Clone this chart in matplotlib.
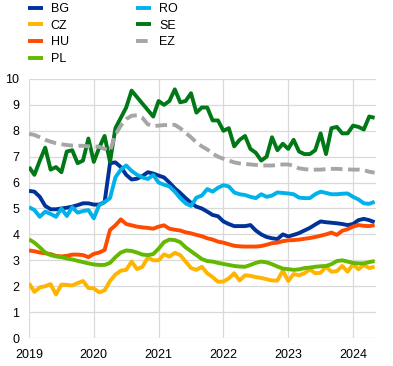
import numpy as np
import matplotlib
matplotlib.use("Agg")
import matplotlib.pyplot as plt

plt.rcParams['font.family'] = ['Liberation Sans', 'DejaVu Sans']

# monthly values, Jan 2019 - May 2024
bg = [5.68, 5.65, 5.45, 5.10, 4.97, 4.97, 5.00, 5.03, 5.07, 5.13, 5.20, 5.20,
      5.15, 5.15, 5.25, 6.75, 6.78, 6.60, 6.30, 6.12, 6.15, 6.25, 6.40, 6.35,
      6.27, 6.20, 6.00, 5.78, 5.60, 5.40, 5.22, 5.07, 5.00, 4.88, 4.75, 4.70,
      4.50, 4.40, 4.32, 4.32, 4.32, 4.36, 4.15, 4.00, 3.90, 3.85, 3.82, 4.00,
      3.92, 3.98, 4.05, 4.15, 4.25, 4.38, 4.50, 4.47, 4.45, 4.43, 4.40, 4.36,
      4.40, 4.55, 4.60, 4.55, 4.47]
cz = [2.11, 1.78, 1.95, 2.00, 2.08, 1.68, 2.06, 2.05, 2.03, 2.12, 2.20, 1.93,
      1.92, 1.76, 1.84, 2.20, 2.45, 2.60, 2.63, 2.95, 2.66, 2.75, 3.11, 3.00,
      3.00, 3.23, 3.14, 3.29, 3.20, 2.95, 2.70, 2.63, 2.75, 2.50, 2.35, 2.17,
      2.18, 2.30, 2.50, 2.22, 2.42, 2.40, 2.35, 2.32, 2.27, 2.22, 2.22, 2.60,
      2.20, 2.47, 2.42, 2.50, 2.65, 2.50, 2.52, 2.75, 2.56, 2.58, 2.78, 2.56,
      2.85, 2.65, 2.82, 2.70, 2.75]
hu = [3.38, 3.35, 3.30, 3.27, 3.24, 3.17, 3.15, 3.17, 3.22, 3.22, 3.20, 3.12,
      3.25, 3.30, 3.40, 4.17, 4.35, 4.58, 4.40, 4.35, 4.30, 4.27, 4.25, 4.22,
      4.30, 4.35, 4.22, 4.18, 4.15, 4.08, 4.04, 3.98, 3.93, 3.85, 3.80, 3.72,
      3.68, 3.62, 3.56, 3.54, 3.53, 3.53, 3.53, 3.55, 3.60, 3.66, 3.68, 3.74,
      3.77, 3.78, 3.80, 3.83, 3.86, 3.90, 3.95, 4.00, 4.07, 3.98, 4.14, 4.20,
      4.30, 4.36, 4.33, 4.32, 4.36]
pl = [3.81, 3.68, 3.50, 3.30, 3.20, 3.15, 3.12, 3.07, 3.03, 2.98, 2.93, 2.88,
      2.84, 2.82, 2.82, 2.90, 3.12, 3.30, 3.38, 3.36, 3.30, 3.22, 3.20, 3.24,
      3.45, 3.70, 3.80, 3.78, 3.70, 3.50, 3.35, 3.20, 3.05, 2.97, 2.95, 2.90,
      2.86, 2.82, 2.78, 2.76, 2.75, 2.82, 2.90, 2.95, 2.92, 2.85, 2.76, 2.68,
      2.66, 2.63, 2.65, 2.70, 2.72, 2.75, 2.77, 2.78, 2.85, 2.97, 3.00, 2.95,
      2.90, 2.88, 2.88, 2.93, 2.97]
ro = [5.05, 4.94, 4.68, 4.88, 4.79, 4.68, 5.00, 4.71, 5.05, 4.84, 4.90, 4.94,
      4.62, 5.13, 5.25, 5.40, 6.20, 6.50, 6.66, 6.45, 6.30, 6.20, 6.14, 6.29,
      6.00, 5.92, 5.85, 5.65, 5.40, 5.20, 5.10, 5.42, 5.50, 5.75, 5.65, 5.80,
      5.90, 5.85, 5.62, 5.55, 5.52, 5.45, 5.40, 5.55, 5.45, 5.50, 5.62, 5.60,
      5.58, 5.55, 5.42, 5.40, 5.40, 5.55, 5.65, 5.60, 5.55, 5.55, 5.57, 5.58,
      5.45, 5.35, 5.20, 5.18, 5.26]
se = [6.60, 6.30, 6.85, 7.35, 6.50, 6.60, 6.40, 7.20, 7.25, 6.75, 6.85, 7.70,
      6.80, 7.35, 7.80, 6.80, 8.10, 8.50, 8.90, 9.55, 9.30, 9.05, 8.80, 8.55,
      9.15, 9.00, 9.15, 9.60, 9.10, 9.15, 9.45, 8.70, 8.90, 8.90, 8.40, 8.40,
      8.00, 8.10, 7.40, 7.65, 7.80, 7.30, 7.15, 6.85, 7.00, 7.75, 7.25, 7.50,
      7.30, 7.65, 7.20, 7.10, 7.10, 7.25, 7.90, 7.10, 8.10, 8.15, 7.90, 7.90,
      8.20, 8.15, 8.05, 8.55, 8.50]
ez = [7.88, 7.84, 7.75, 7.65, 7.58, 7.52, 7.48, 7.45, 7.43, 7.42, 7.42, 7.40,
      7.40, 7.38, 7.30, 7.22, 7.85, 8.20, 8.45, 8.58, 8.60, 8.50, 8.25, 8.18,
      8.20, 8.22, 8.22, 8.23, 8.10, 7.92, 7.75, 7.55, 7.40, 7.28, 7.12, 7.00,
      6.92, 6.85, 6.78, 6.74, 6.72, 6.70, 6.68, 6.66, 6.66, 6.66, 6.68, 6.70,
      6.70, 6.65, 6.55, 6.52, 6.50, 6.50, 6.50, 6.52, 6.53, 6.53, 6.52, 6.51,
      6.50, 6.50, 6.48, 6.42, 6.38]

labels = ['BG', 'CZ', 'HU', 'PL', 'RO', 'SE', 'EZ']
colors = ['#003299', '#FFB400', '#FF4B00', '#65B800', '#00B1EA', '#007816', '#A6A6A6']
years = [2019, 2020, 2021, 2022, 2023, 2024]

x = 2019 + np.arange(len(bg)) / 12

fig = plt.figure(figsize=(3.93, 3.66), dpi=100)
ax = fig.add_axes([0.0738, 0.0765, 0.883, 0.7077])

for ys, lab, c in zip([bg, cz, hu, pl, ro, se, ez], labels, colors):
    if lab == 'EZ':
        ax.plot(x, ys, color=c, lw=2.8, label=lab, dashes=(3.0, 1.4), dash_capstyle='butt')
    else:
        ax.plot(x, ys, color=c, lw=2.8, label=lab, solid_capstyle='butt')

ax.set_xlim(2019, 2024.355)
ax.set_ylim(0, 10)
ax.set_xticks(years)
ax.set_xticklabels([str(y) for y in years])
ax.set_yticks(range(0, 11))
ax.grid(True, color='#d9d9d9', lw=0.9)
ax.set_axisbelow(True)
for s in ax.spines.values():
    s.set_visible(False)
ax.tick_params(length=0, labelsize=9, colors='black')
ax.tick_params(axis='y', pad=7)
ax.tick_params(axis='x', pad=8)

ax.legend(ncol=2, loc='upper left', bbox_to_anchor=(0.072, 0.992),
          bbox_transform=fig.transFigure, frameon=False, fontsize=9,
          borderpad=0, borderaxespad=0, handlelength=1.15, handletextpad=0.65,
          columnspacing=5.4, labelspacing=0.38)

fig.savefig('out.png', dpi=100)
